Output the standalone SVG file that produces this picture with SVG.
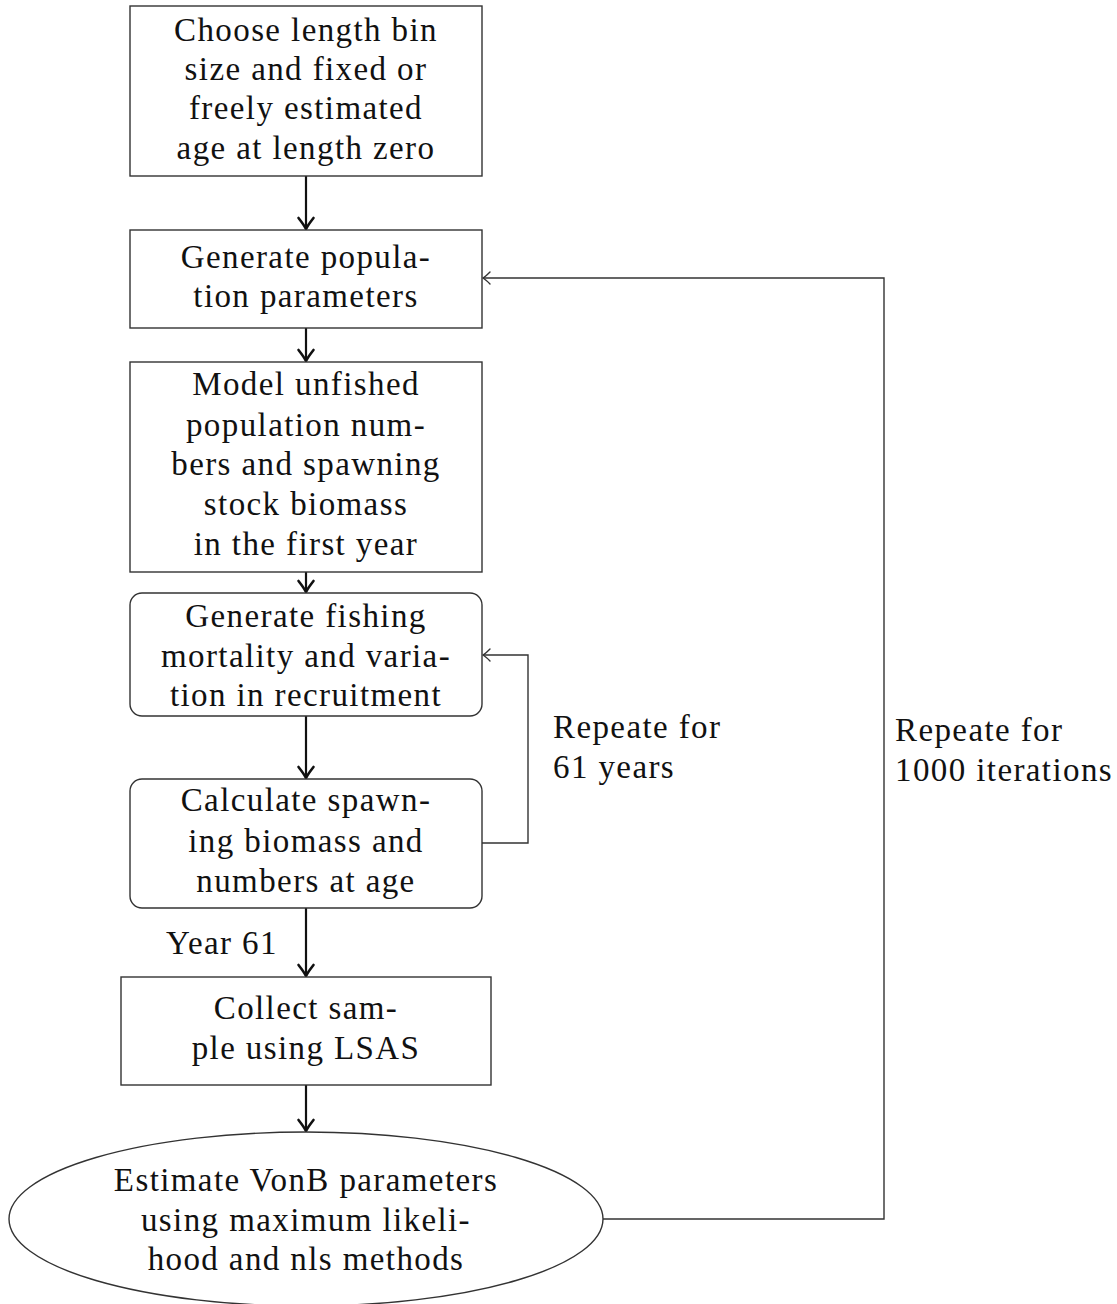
<svg xmlns="http://www.w3.org/2000/svg" width="1117" height="1304" viewBox="0 0 1117 1304">
<style>
.box{fill:#fff;stroke:#333;stroke-width:1.4}
.t{font-family:"Liberation Serif","DejaVu Serif",serif;font-size:33px;letter-spacing:1.4px;fill:#111;text-anchor:middle}
.l{font-family:"Liberation Serif","DejaVu Serif",serif;font-size:33px;letter-spacing:1.4px;fill:#111}
.arr{fill:none;stroke:#111;stroke-width:2.2}
.loop{fill:none;stroke:#333;stroke-width:1.4}
</style>
<defs>
<marker id="ah" viewBox="-14 -9 16 18" refX="0" refY="0" markerWidth="16" markerHeight="18" markerUnits="userSpaceOnUse" orient="auto" overflow="visible">
<path d="M-11,-7.5 Q-4,-2 0,0 Q-4,2 -11,7.5" fill="none" stroke="#111" stroke-width="2.6" stroke-linecap="round" stroke-linejoin="round"/>
</marker>
<marker id="oh" viewBox="-12 -7 14 14" refX="0" refY="0" markerWidth="14" markerHeight="14" markerUnits="userSpaceOnUse" orient="auto" overflow="visible">
<path d="M-7,-6 Q-2.5,-1.5 0,0 Q-2.5,1.5 -7,6" fill="none" stroke="#333" stroke-width="1.4" stroke-linecap="round"/>
</marker>
</defs>
<rect width="1117" height="1304" fill="#fff"/>
<g id="connectors">
<line class="arr" x1="306" y1="176" x2="306" y2="229" marker-end="url(#ah)"/>
<line class="arr" x1="306" y1="328" x2="306" y2="361" marker-end="url(#ah)"/>
<line class="arr" x1="306" y1="572" x2="306" y2="592" marker-end="url(#ah)"/>
<line class="arr" x1="306" y1="716" x2="306" y2="778" marker-end="url(#ah)"/>
<line class="arr" x1="306" y1="908" x2="306" y2="976" marker-end="url(#ah)"/>
<line class="arr" x1="306" y1="1085" x2="306" y2="1131" marker-end="url(#ah)"/>
<polyline class="loop" points="482,843 528,843 528,655 483,655" marker-end="url(#oh)"/>
<polyline class="loop" points="603,1219 884,1219 884,278 483,278" marker-end="url(#oh)"/>
<text class="l" x="553" y="738">Repeate for</text>
<text class="l" x="553" y="778">61 years</text>
<text class="l" x="895" y="741">Repeate for</text>
<text class="l" x="895" y="781">1000 iterations</text>
<text class="l" x="166" y="954">Year 61</text>
</g>
<g id="n1">
<rect class="box" x="130" y="6" width="352" height="170"/>
<text class="t" x="306" y="41">Choose length bin</text>
<text class="t" x="306" y="80">size and fixed or</text>
<text class="t" x="306" y="119">freely estimated</text>
<text class="t" x="306" y="159">age at length zero</text>
</g>
<g id="n2">
<rect class="box" x="130" y="230" width="352" height="98"/>
<text class="t" x="306" y="268">Generate popula-</text>
<text class="t" x="306" y="307">tion parameters</text>
</g>
<g id="n3">
<rect class="box" x="130" y="362" width="352" height="210"/>
<text class="t" x="306" y="395">Model unfished</text>
<text class="t" x="306" y="436">population num-</text>
<text class="t" x="306" y="475">bers and spawning</text>
<text class="t" x="306" y="515">stock biomass</text>
<text class="t" x="306" y="555">in the first year</text>
</g>
<g id="n4">
<rect class="box" x="130" y="593" width="352" height="123" rx="12"/>
<text class="t" x="306" y="627">Generate fishing</text>
<text class="t" x="306" y="667">mortality and varia-</text>
<text class="t" x="306" y="706">tion in recruitment</text>
</g>
<g id="n5">
<rect class="box" x="130" y="779" width="352" height="129" rx="12"/>
<text class="t" x="306" y="811">Calculate spawn-</text>
<text class="t" x="306" y="852">ing biomass and</text>
<text class="t" x="306" y="892">numbers at age</text>
</g>
<g id="n6">
<rect class="box" x="121" y="977" width="370" height="108"/>
<text class="t" x="306" y="1019">Collect sam-</text>
<text class="t" x="306" y="1059">ple using LSAS</text>
</g>
<g id="n7">
<ellipse class="box" cx="306" cy="1219" rx="297" ry="87"/>
<text class="t" x="306" y="1191">Estimate VonB parameters</text>
<text class="t" x="306" y="1231">using maximum likeli-</text>
<text class="t" x="306" y="1270">hood and nls methods</text>
</g>
</svg>
